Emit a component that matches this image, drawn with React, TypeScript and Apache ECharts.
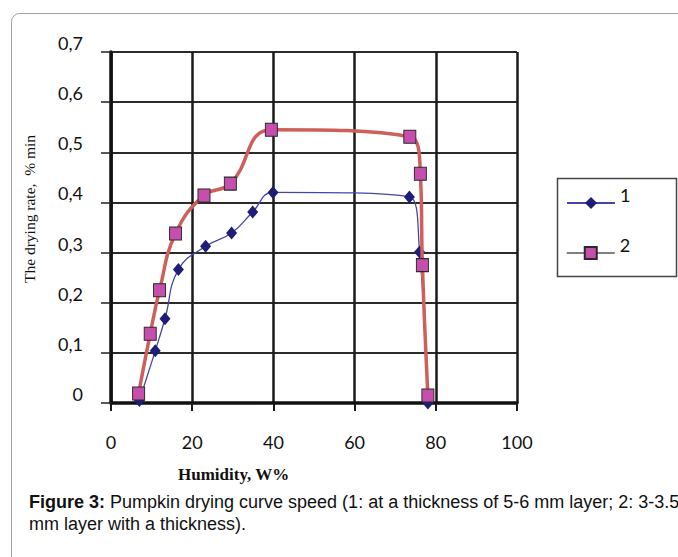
import React, { useEffect, useRef } from 'react';
import * as echarts from 'echarts';

// Series 1: 5-6 mm layer
const humidity1 = [7.0, 10.9, 13.3, 16.6, 23.3, 29.7, 34.9, 39.9, 73.5, 76.0, 78.05];
const rate1 = [0.005, 0.104, 0.168, 0.266, 0.3125, 0.339, 0.381, 0.42, 0.411, 0.301, 0.0];
// Series 2: 3-3.5 mm layer
const humidity2 = [6.8, 9.66, 11.96, 15.9, 22.9, 29.4, 39.5, 73.6, 76.2, 76.7, 78.05];
const rate2 = [0.019, 0.138, 0.225, 0.338, 0.414, 0.4375, 0.545, 0.531, 0.457, 0.275, 0.015];

const seriesNames = ['1', '2'];
const xMin = 0;
const xMax = 100;
const xStep = 20;
const yMin = 0;
const yMax = 0.7;
const yStep = 0.1;

const yAxisTitle = 'The drying rate,  % min';
const xAxisTitle = 'Humidity, W%';
const captionBold = 'Figure 3:';
const captionLine1 = ' Pumpkin drying curve speed (1: at a thickness of 5-6 mm layer; 2: 3-3.5';
const captionLine2 = 'mm layer with a thickness).';

export default function App() {
  const ref = useRef<HTMLDivElement>(null);
  useEffect(() => {
    if (!ref.current) return;
    const chart = echarts.init(ref.current, undefined, { renderer: 'svg' });
    const pts1 = humidity1.map((x, i) => [x, rate1[i]]);
    const pts2 = humidity2.map((x, i) => [x, rate2[i]]);
    const tickFont = 'Lato, "Open Sans", sans-serif';
    const legendText = {
      fontSize: 18,
      fontFamily: tickFont,
      color: '#111',
      rich: { t: { fontSize: 18, fontFamily: tickFont, color: '#111', padding: [0, 0, 16, 0] } },
    };
    chart.setOption({
      animation: false,
      grid: {
        left: 111,
        top: 52,
        right: 161,
        bottom: 154,
      },
      xAxis: {
        type: 'value',
        min: xMin,
        max: xMax,
        interval: xStep,
        axisLine: { show: true, lineStyle: { color: '#111', width: 3.5 } },
        axisTick: { show: true, length: 8, lineStyle: { color: '#1a1a1a', width: 2 } },
        axisLabel: { show: true, margin: 30, color: '#111', fontSize: 18, fontFamily: tickFont },
        splitLine: { show: true, lineStyle: { color: '#1a1a1a', width: 2.5 } },
      },
      yAxis: {
        type: 'value',
        min: yMin,
        max: yMax,
        interval: yStep,
        axisLine: { show: true, lineStyle: { color: '#111', width: 3.5 } },
        axisTick: { show: true, length: 10, lineStyle: { color: '#222', width: 1.5 } },
        axisLabel: {
          margin: 28,
          color: '#111',
          fontSize: 18,
          fontFamily: tickFont,
          verticalAlign: 'bottom',
          formatter: (v: number) => (Math.abs(v) < 1e-9 ? '0' : (Math.round(v * 10) / 10).toFixed(1).replace('.', ',')),
        },
        splitLine: { show: true, lineStyle: { color: '#2b2b2b', width: 2 } },
      },
      legend: [
        {
          data: [{ name: seriesNames[0] }],
          left: 566,
          top: 186,
          padding: 0,
          itemWidth: 48,
          itemHeight: 15,
          formatter: '{t|{name}}',
          textStyle: legendText,
        },
        {
          data: [{ name: seriesNames[1], lineStyle: { color: '#555', width: 1.5 } }],
          left: 566,
          top: 236,
          padding: 0,
          itemWidth: 48,
          itemHeight: 15,
          formatter: '{t|{name}}',
          textStyle: legendText,
        },
      ],
      graphic: [
        {
          type: 'rect',
          shape: { x: 11.5, y: 13.5, width: 720, height: 600, r: 8 },
          style: { fill: 'transparent', stroke: '#a0a0a0', lineWidth: 1 },
          silent: true,
        },
        {
          type: 'rect',
          shape: { x: 557.5, y: 178.5, width: 119, height: 98 },
          style: { fill: 'transparent', stroke: '#444', lineWidth: 1.5 },
          silent: true,
        },
        {
          type: 'text',
          x: 29,
          y: 209,
          rotation: Math.PI / 2,
          style: {
            text: yAxisTitle,
            fontFamily: '"Liberation Serif", "DejaVu Serif", serif',
            fontSize: 15.5,
            fill: '#111',
            align: 'center',
            verticalAlign: 'middle',
          },
        },
        {
          type: 'text',
          x: 178,
          y: 474,
          style: {
            text: xAxisTitle,
            fontFamily: '"Liberation Serif", "DejaVu Serif", serif',
            fontWeight: 'bold',
            fontSize: 17,
            fill: '#111',
            align: 'left',
            verticalAlign: 'middle',
          },
        },
        {
          type: 'text',
          x: 29,
          y: 502,
          style: {
            text: '{b|' + captionBold + '}{n|' + captionLine1 + '}',
            verticalAlign: 'middle',
            align: 'left',
            rich: {
              b: { fontFamily: '"Liberation Sans", Arial, sans-serif', fontWeight: 'bold', fontSize: 18, fill: '#111' },
              n: { fontFamily: '"Liberation Sans", Arial, sans-serif', fontSize: 18, fill: '#111' },
            },
          },
        },
        {
          type: 'text',
          x: 29,
          y: 524,
          style: {
            text: captionLine2,
            fontFamily: '"Liberation Sans", Arial, sans-serif',
            fontSize: 18,
            fill: '#111',
            align: 'left',
            verticalAlign: 'middle',
          },
        },
      ],
      series: [
        {
          name: seriesNames[0],
          type: 'line',
          data: pts1,
          smooth: 0.45,
          symbol: 'diamond',
          symbolSize: [11, 13],
          lineStyle: { color: '#4646a6', width: 1.3 },
          itemStyle: { color: '#1e1e78', borderColor: '#1e1e78', borderWidth: 0 },
          clip: true,
          z: 2,
        },
        {
          name: seriesNames[1],
          type: 'line',
          data: pts2,
          smooth: 0.45,
          symbol: 'rect',
          symbolSize: [12, 13],
          lineStyle: { color: '#cf5f5a', width: 3.5 },
          itemStyle: { color: '#c64fae', borderColor: '#2a2a2a', borderWidth: 1 },
          clip: false,
          z: 3,
        },
      ],
    });
    return () => chart.dispose();
  }, []);
  return <div ref={ref} style={{ position: 'fixed', left: 0, top: 0, width: 678, height: 557, background: '#fff' }} />;
}
